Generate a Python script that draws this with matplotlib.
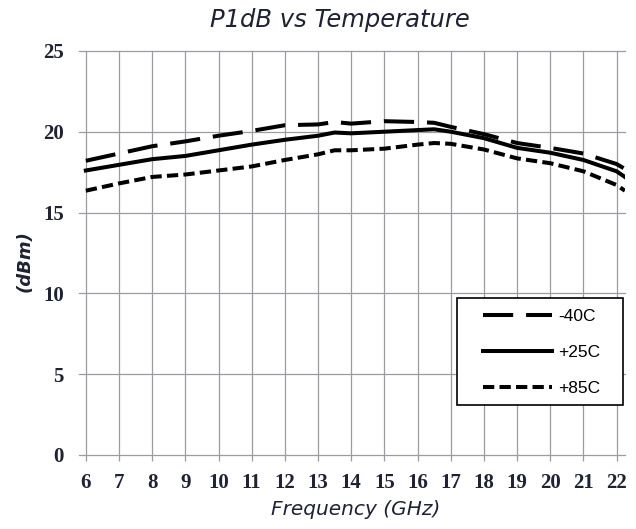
import numpy as np
import matplotlib
matplotlib.use("Agg")
from matplotlib import pyplot as plt
from matplotlib.patches import Rectangle

# Frequenze (GHz) e P1dB (dBm)
freq = [6, 7, 8, 9, 10, 11, 12, 13, 13.5, 14, 15, 16, 16.5, 17, 18, 19, 20, 21, 22, 22.25]
p1db_m40 = [18.2, 18.65, 19.1, 19.4, 19.75, 20.05, 20.4, 20.45, 20.6, 20.5, 20.65, 20.6, 20.55, 20.3,
            19.85, 19.3, 19.0, 18.65, 18.0, 17.7]
p1db_p25 = [17.6, 17.95, 18.3, 18.5, 18.85, 19.2, 19.5, 19.75, 19.95, 19.9, 20.0, 20.1, 20.15, 20.0,
            19.6, 19.0, 18.7, 18.25, 17.55, 17.2]
p1db_p85 = [16.35, 16.8, 17.2, 17.35, 17.6, 17.85, 18.25, 18.6, 18.85, 18.85, 18.95, 19.2, 19.3, 19.25,
            18.9, 18.35, 18.05, 17.55, 16.7, 16.35]
etichette = ["-40C", "+25C", "+85C"]

colore_testo = "#1f2233"
colore_griglia = "#9b9ca3"

fig = plt.figure(figsize=(6.36, 5.29), dpi=100)
ax = fig.add_axes([0.1245, 0.14, 0.858, 0.7638])

ax.plot(freq, p1db_m40, color="black", linewidth=2.9, dashes=(7.5, 3.2), label=etichette[0])
ax.plot(freq, p1db_p25, color="black", linewidth=2.9, label=etichette[1])
ax.plot(freq, p1db_p85, color="black", linewidth=2.9, dashes=(2.8, 1.3), label=etichette[2])

ax.set_xlim(5.8, 22.25)
ax.set_ylim(0, 25)
ax.set_xticks(np.arange(6, 23, 1))
ax.set_yticks(np.arange(0, 26, 5))
for s in ax.spines.values():
    s.set_visible(False)
ax.grid(True, color=colore_griglia, linewidth=0.9)
ax.set_axisbelow(True)
for l in ax.get_xgridlines() + ax.get_ygridlines():
    l.set_clip_on(False)
ax.tick_params(axis="x", direction="out", length=4, color=colore_griglia, width=0.9, pad=9)
ax.tick_params(axis="y", length=0, pad=11)
for lab in ax.get_xticklabels() + ax.get_yticklabels():
    lab.set_fontfamily("Liberation Serif")
    lab.set_fontweight("bold")
    lab.set_fontsize(15)
    lab.set_color(colore_testo)

fig.text(0.535, 0.963, "P1dB vs Temperature", ha="center", va="center", fontsize=17.5,
         style="italic", family="DejaVu Sans", color=colore_testo)
fig.text(0.56, 0.036, "Frequency (GHz)", ha="center", va="center", fontsize=14.5,
         style="italic", family="DejaVu Sans", color=colore_testo)
fig.text(0.038, 0.507, "(dBm)", ha="center", va="center", rotation=90, fontsize=13,
         style="italic", fontweight="bold", family="DejaVu Sans", color=colore_testo)

# riquadro della legenda
ax.add_patch(Rectangle((457 / 636, 1 - 405 / 529), 166 / 636, 107 / 529,
                       transform=fig.transFigure, facecolor="white", edgecolor="black",
                       linewidth=1.2, zorder=5, clip_on=False))
leg = ax.legend(loc="upper left", bbox_to_anchor=(483 / 636, 1 - 309 / 529),
                bbox_transform=fig.transFigure, borderaxespad=0, borderpad=0, handlelength=4.0,
                labelspacing=1.2, handletextpad=0.35, frameon=False,
                prop={"family": "Liberation Sans", "size": 12.5})
leg.set_zorder(6)

fig.savefig("out.png", dpi=100)
